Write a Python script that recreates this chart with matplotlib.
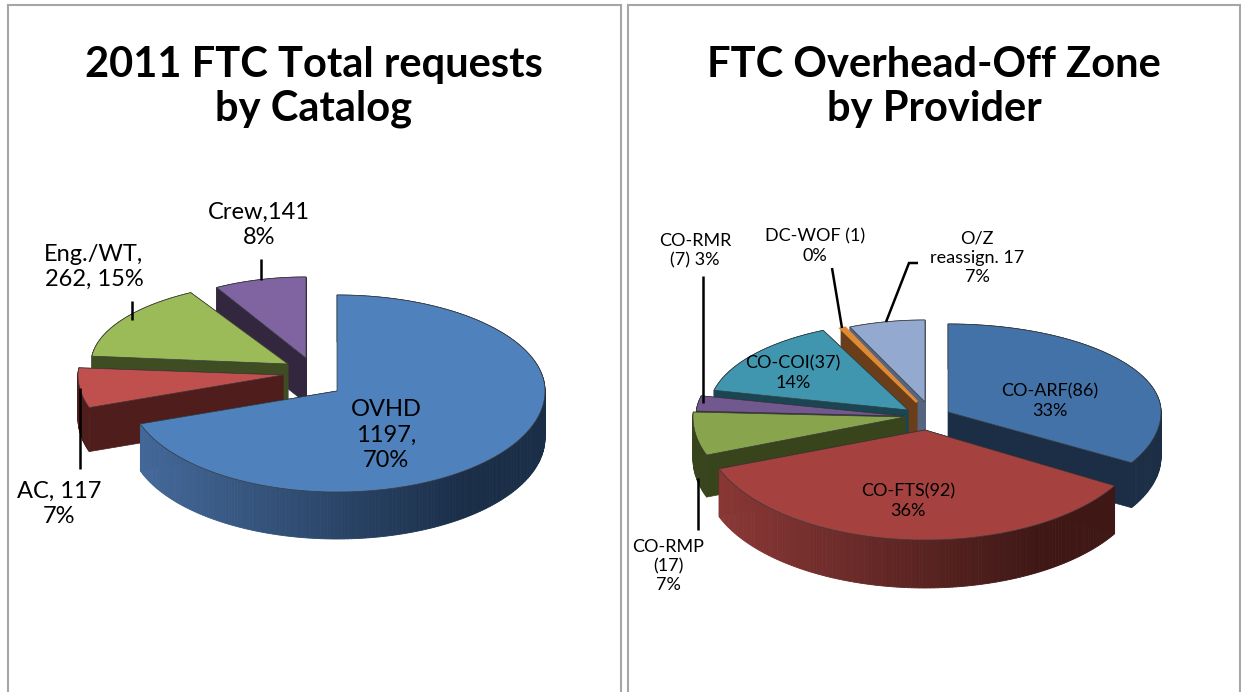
import numpy as np
import matplotlib
matplotlib.use("Agg")
import matplotlib.pyplot as plt
from matplotlib.patches import Polygon
from matplotlib.colors import to_rgb

plt.rcParams['font.family'] = ['Lato', 'DejaVu Sans']

W, H = 1241, 692

# ---- data ----
left_title = "2011 FTC Total requests\nby Catalog"
left_names = ["OVHD", "AC", "Eng./WT", "Crew"]
left_values = [1197, 117, 262, 141]
right_title = "FTC Overhead-Off Zone\nby Provider"
right_names = ["CO-ARF", "CO-FTS", "CO-RMP", "CO-RMR", "CO-COI", "DC-WOF", "O/Z"]
right_values = [86, 92, 17, 7, 37, 1, 17]

# ---- styles: per slice apex x, y, radius x, radius up, radius down, depth ----
left_geom = [(337, 391, 208, 96, 101, 47),
             (283, 375, 205, 75, 100, 44),
             (288, 364, 197, 82, 82, 45),
             (306, 358, 181, 81, 81, 45)]
left_top = ["#4F81BD", "#C0504D", "#9BBB59", "#8064A2"]
left_side = [("#44699A", "#1A2E48"), ("#4F1D1B", "#4F1D1B"),
             ("#3F4D22", "#3F4D22"), ("#33273F", "#33273F")]
left_order = [3, 2, 1, 0]

right_geom = [(948, 412, 213, 88, 100, 45),
              (925, 430, 220, 100, 110, 48),
              (905, 417, 212, 90, 108, 42),
              (903, 416, 207, 90, 90, 40),
              (908, 410, 199, 88, 88, 40),
              (917, 402, 178, 81, 81, 40),
              (925, 402, 186, 82, 82, 40)]
right_top = ["#4272A8", "#A5413F", "#88A54E", "#71588F", "#3F96AE", "#E08A34", "#93A9CF"]
right_side = [("#1B2E45", "#1B2E45"), ("#8A3836", "#3F1816"), ("#38441C", "#38441C"),
              ("#2A2038", "#2A2038"), ("#1A4552", "#1A4552"), ("#6A3E1A", "#6A3E1A"),
              ("#56657F", "#56657F")]
right_order = [6, 5, 4, 3, 2, 0, 1]


def pt(g, a):
    cx, cy, rx, up, dn, _ = g
    s = np.sin(a)
    return cx + rx * np.cos(a), cy - np.where(s > 0, up, dn) * s


def draw_slice(ax, g, a0, a1, top, side, extra_lw=0.0):
    depth = g[5]
    ang = np.linspace(a0, a1, max(int(abs(a1 - a0) * 60), 3))
    x, y = pt(g, ang)
    cx, cy = g[0], g[1]
    darks = to_rgb(side[1])
    # cut faces
    for xe, ye in ((x[0], y[0]), (x[-1], y[-1])):
        ax.add_patch(Polygon([(cx, cy), (xe, ye), (xe, ye + depth), (cx, cy + depth)],
                             closed=True, fc=side[1], ec=side[1], lw=0.5, zorder=2))
    # outer wall as a gradient of short strips
    c0, c1 = np.array(to_rgb(side[0])), np.array(darks)
    xmin, xmax = x.min(), x.max()
    for i in range(len(ang) - 1):
        t = np.clip((0.5 * (x[i] + x[i + 1]) - xmin) / max(xmax - xmin, 1) * 1.25, 0, 1)
        col = c0 + (c1 - c0) * t
        ax.add_patch(Polygon([(x[i], y[i]), (x[i + 1], y[i + 1]),
                              (x[i + 1], y[i + 1] + depth), (x[i], y[i] + depth)],
                             closed=True, fc=col, ec=col, lw=0.6, zorder=2))
    # top face
    ax.add_patch(Polygon(np.r_[[(cx, cy)], np.c_[x, y]], closed=True, fc=top,
                         ec=top if extra_lw else "#3a3a3a", lw=extra_lw or 0.5, zorder=2))


def draw_pie(ax, values, geom, tops, sides, order, extra=None):
    fr = np.cumsum([0] + list(values)) / float(sum(values))
    ang = np.pi / 2 - 2 * np.pi * fr
    for i in order:
        draw_slice(ax, geom[i], ang[i], ang[i + 1], tops[i], sides[i],
                   (extra or {}).get(i, 0.0))


def panel(x0, x1):
    ax = fig.add_axes([x0 / W, 0, (x1 - x0) / W, 1 - 5 / H])
    ax.set_xlim(x0, x1)
    ax.set_ylim(H, 5)
    ax.set_xticks([])
    ax.set_yticks([])
    for s in ("left", "right", "top"):
        ax.spines[s].set_color("#A6A6A6")
        ax.spines[s].set_linewidth(1.5)
    ax.spines["bottom"].set_visible(False)
    return ax


def lead(ax, xs, ys, lw=1.8):
    ax.plot(xs, ys, color="black", lw=lw, zorder=3, solid_capstyle="butt", solid_joinstyle="miter")


fig = plt.figure(figsize=(W / 100, H / 100), dpi=100, facecolor="white")
ax1 = panel(8, 621)
ax2 = panel(628, 1240)

TS = 30
LS = 17
RS = 13

# ---- left chart ----
ax1.text(314, 87, left_title, ha="center", va="center", fontsize=TS, fontweight="bold",
         linespacing=1.17, color="black")
draw_pie(ax1, left_values, left_geom, left_top, left_side, left_order)
for x, y, s in [(386, 435, "OVHD\n1197,\n70%"), (59, 504, "AC, 117\n7%"),
                (94, 267, "Eng./WT,\n262, 15%"), (259, 225, "Crew,141\n8%")]:
    ax1.text(x, y, s, ha="center", va="center", fontsize=LS, linespacing=1.25,
             color="black", zorder=4)
lead(ax1, [80, 80], [388, 469])
lead(ax1, [132, 132], [301, 320])
lead(ax1, [261, 261], [259, 280])

# ---- right chart ----
ax2.text(934, 87, right_title, ha="center", va="center", fontsize=TS, fontweight="bold",
         linespacing=1.17, color="black")
draw_pie(ax2, right_values, right_geom, right_top, right_side, right_order, extra={5: 2.0})
for x, y, s in [(1050, 401, "CO-ARF(86)\n33%"), (908, 501, "CO-FTS(92)\n36%"),
                (793, 373, "CO-COI(37)\n14%"), (695, 251, "CO-RMR\n(7) 3%"),
                (815, 246, "DC-WOF (1)\n0%"), (977, 258, "O/Z\nreassign. 17\n7%"),
                (668, 566, "CO-RMP\n(17)\n7%")]:
    ax2.text(x, y, s, ha="center", va="center", fontsize=RS, linespacing=1.25,
             color="black", zorder=4)
lead(ax2, [703, 703], [276, 403])
lead(ax2, [832, 842], [268, 328])
lead(ax2, [886, 909, 918], [322, 263, 263])
lead(ax2, [698, 698], [478, 530])

fig.savefig("out.png", dpi=100, facecolor="white")
